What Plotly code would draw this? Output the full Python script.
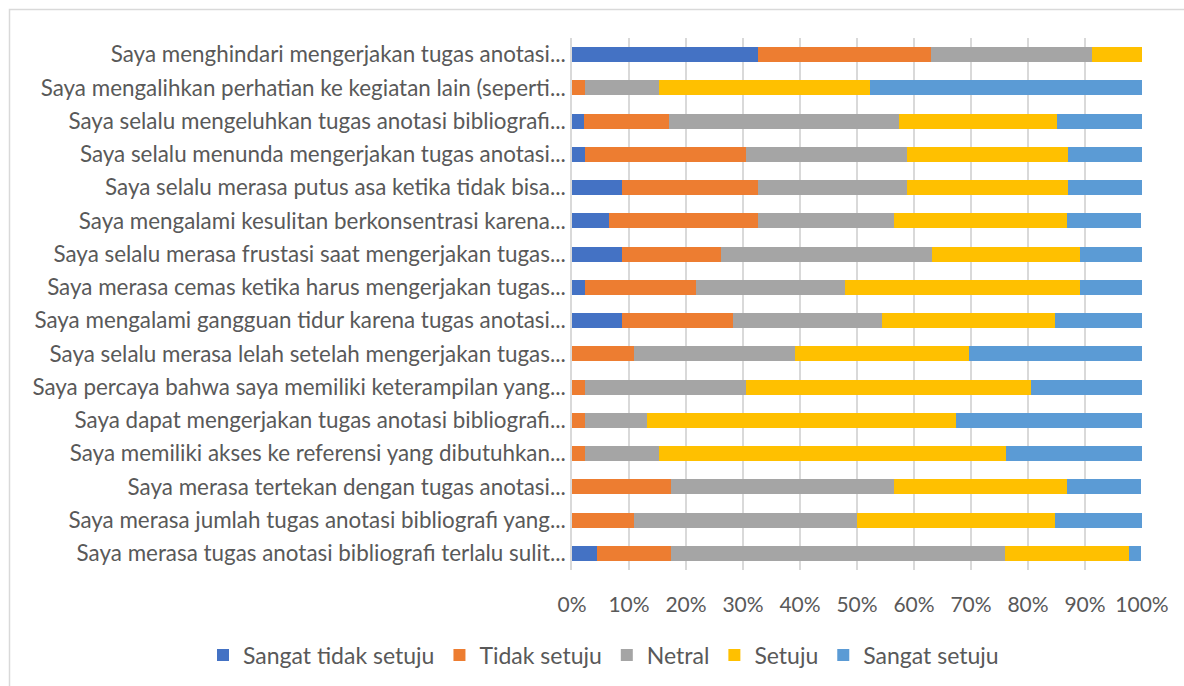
import plotly.graph_objects as go

categories = [
    "Saya menghindari mengerjakan tugas anotasi...",
    "Saya mengalihkan perhatian ke kegiatan lain (seperti...",
    "Saya selalu mengeluhkan tugas anotasi bibliografi...",
    "Saya selalu menunda mengerjakan tugas anotasi...",
    "Saya selalu merasa putus asa ketika tidak bisa...",
    "Saya mengalami kesulitan berkonsentrasi karena...",
    "Saya selalu merasa frustasi saat mengerjakan tugas...",
    "Saya merasa cemas ketika harus mengerjakan tugas...",
    "Saya mengalami gangguan tidur karena tugas anotasi...",
    "Saya selalu merasa lelah setelah mengerjakan tugas...",
    "Saya percaya bahwa saya memiliki keterampilan yang...",
    "Saya dapat mengerjakan tugas anotasi bibliografi...",
    "Saya memiliki akses ke referensi yang dibutuhkan...",
    "Saya merasa tertekan dengan tugas anotasi...",
    "Saya merasa jumlah tugas anotasi bibliografi yang...",
    "Saya merasa tugas anotasi bibliografi terlalu sulit...",
]

series_names = ["Sangat tidak setuju", "Tidak setuju", "Netral", "Setuju", "Sangat setuju"]

sangat_tidak_setuju = [32.6, 0.0, 2.1, 2.2, 8.7, 6.5, 8.7, 2.2, 8.7, 0.0, 0.0, 0.0, 0.0, 0.0, 0.0, 4.3]
tidak_setuju        = [30.4, 2.2, 14.9, 28.3, 23.9, 26.1, 17.4, 19.6, 19.6, 10.9, 2.2, 2.2, 2.2, 17.4, 10.9, 13.0]
netral              = [28.3, 13.0, 40.4, 28.3, 26.1, 23.9, 37.0, 26.1, 26.1, 28.3, 28.3, 10.9, 13.0, 39.1, 39.1, 58.7]
setuju              = [8.7, 37.0, 27.7, 28.3, 28.3, 30.4, 26.1, 41.3, 30.4, 30.4, 50.0, 54.3, 60.9, 30.4, 34.8, 21.7]
sangat_setuju       = [0.0, 47.8, 14.9, 13.0, 13.0, 13.0, 10.9, 10.9, 15.2, 30.4, 19.6, 32.6, 23.9, 13.0, 15.2, 2.2]

tick_vals = [0, 10, 20, 30, 40, 50, 60, 70, 80, 90, 100]
tick_text = ["0%", "10%", "20%", "30%", "40%", "50%", "60%", "70%", "80%", "90%", "100%"]

colors = ["#4472C4", "#ED7D31", "#A5A5A5", "#FFC000", "#5B9BD5"]
values = [sangat_tidak_setuju, tidak_setuju, netral, setuju, sangat_setuju]

FONT = "Lato"
TXT = "#595959"

# plot area in pixels
L, R, T, B = 572, 1142, 38, 570
W, H = 1184, 686
PW, PH = R - L, B - T

fig = go.Figure()
for name, vals, col in zip(series_names, values, colors):
    fig.add_trace(go.Bar(
        y=categories, x=vals, name=name, orientation="h",
        marker=dict(color=col, line=dict(width=0)),
    ))

fig.update_layout(
    barmode="stack",
    bargap=0.55,
    width=W, height=H,
    margin=dict(l=L, r=W - R, t=T, b=H - B, autoexpand=False),
    paper_bgcolor="white",
    plot_bgcolor="white",
    font=dict(family=FONT, size=22, color=TXT),
    xaxis=dict(
        range=[0, 100], tickvals=tick_vals, ticktext=tick_text,
        showgrid=True, gridcolor="#D9D9D9", gridwidth=1.5,
        zeroline=False, showline=False, ticks="",
        ticklabelstandoff=20,
        tickfont=dict(family=FONT, size=21, color=TXT),
        fixedrange=True,
    ),
    yaxis=dict(
        autorange="reversed", showgrid=False, zeroline=False,
        showline=True, linecolor="#D9D9D9", linewidth=1.5,
        ticks="", ticklen=0,
        tickfont=dict(family=FONT, size=22.4, color=TXT),
        fixedrange=True,
    ),
    legend=dict(
        orientation="h", xref="paper", yref="paper",
        x=(203 - L) / PW, xanchor="left",
        y=-(655 - B) / PH, yanchor="middle",
        font=dict(family=FONT, size=23, color=TXT),
        traceorder="normal",
    ),
    showlegend=True,
)

# Chart area border (Excel-style)
fig.add_shape(
    type="rect", xref="paper", yref="paper",
    x0=(9.5 - L) / PW, x1=(1195 - L) / PW,
    y0=-(700 - B) / PH, y1=1 + (T - 9.5) / PH,
    line=dict(color="#D9D9D9", width=1.5), fillcolor="rgba(0,0,0,0)",
    layer="below",
)

fig.write_html(
    "out.html",
    config={"displayModeBar": False},
    post_script="document.body.style.margin='0px';",
)
